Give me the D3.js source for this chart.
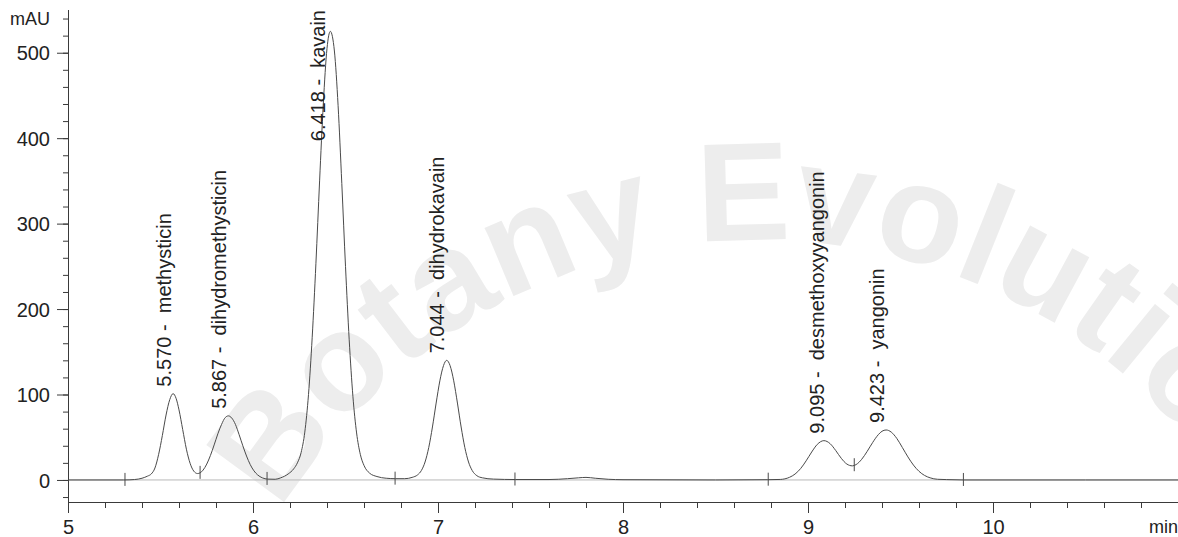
<!DOCTYPE html>
<html>
<head>
<meta charset="utf-8">
<script src="https://cdn.jsdelivr.net/npm/d3@7"></script>
<style>
  html, body { margin: 0; padding: 0; background: #fff; }
  svg { display: block; font-family: "Liberation Sans", Arial, Helvetica, sans-serif; }
</style>
</head>
<body>
<svg id="chart" width="1178" height="537"></svg>
<script>
// --- DATA ---
const traceTime = [
  5.00, 5.20, 5.30, 5.36, 5.40, 5.43, 5.45, 5.47, 5.49, 5.51, 5.53, 5.55, 5.568, 5.585, 5.60, 5.62,
  5.64, 5.66, 5.68, 5.70, 5.714, 5.73, 5.75, 5.77, 5.79, 5.81, 5.83, 5.85, 5.867, 5.885, 5.905, 5.925,
  5.945, 5.965, 5.985, 6.005, 6.025, 6.05, 6.08, 6.12, 6.15, 6.19, 6.22, 6.24, 6.26, 6.28, 6.30, 6.32,
  6.34, 6.36, 6.38, 6.40, 6.418, 6.44, 6.46, 6.48, 6.50, 6.52, 6.54, 6.56, 6.58, 6.60, 6.63, 6.67,
  6.72, 6.77, 6.82, 6.86, 6.89, 6.91, 6.93, 6.95, 6.97, 6.99, 7.01, 7.03, 7.047, 7.065, 7.085, 7.105,
  7.125, 7.145, 7.165, 7.185, 7.21, 7.24, 7.30, 7.42, 7.60, 7.70, 7.76, 7.80, 7.85, 7.92, 8.00, 8.50,
  8.78, 8.85, 8.90, 8.93, 8.96, 8.99, 9.02, 9.05, 9.086, 9.12, 9.15, 9.18, 9.21, 9.24, 9.26, 9.29,
  9.32, 9.35, 9.38, 9.40, 9.422, 9.45, 9.48, 9.51, 9.54, 9.57, 9.60, 9.63, 9.66, 9.70, 9.80, 9.84,
  10.5, 11.0
];
const traceMAU = [
  0, 0, 0, 0.5, 2, 4.5, 7, 14, 30, 52, 76, 94, 101, 95, 82, 59,
  36, 19.5, 10.3, 7.5, 8.3, 11.5, 18.6, 28.7, 41, 54, 65, 73, 75, 72.5, 65, 53,
  40, 28, 18, 10.7, 5.9, 2.5, 1, 0.8, 2.5, 7, 13, 20, 32, 56, 100, 167,
  253, 350, 440, 505, 525, 502, 438, 347, 250, 164, 98, 55, 30, 17, 8, 4,
  2, 1.5, 1.5, 3, 6, 11, 21, 38, 62, 90, 116, 134, 140, 134, 116, 90,
  62, 38, 21, 11, 5, 2.5, 1, 0.5, 0.5, 1.5, 2.5, 3, 2, 0.8, 0.3, 0,
  0.3, 0.6, 3.1, 6.9, 13.3, 22.4, 32.7, 41.6, 46, 42.4, 34.4, 25.3, 18.6, 16.5, 18, 24.1,
  33.5, 44, 53, 57, 58.5, 56, 48.6, 38, 27, 17.4, 10.1, 5.3, 2.5, 0.8, 0.2, 0,
  0, 0
];

const peakTimes = [5.570, 5.867, 6.418, 7.044, 9.095, 9.423];
const peakNames = ["methysticin", "dihydromethysticin", "kavain", "dihydrokavain", "desmethoxyyangonin", "yangonin"];

// integration start/end marks drawn on the trace
const markerTimes = [5.308, 5.714, 6.076, 6.768, 7.416, 8.785, 9.25, 9.84];

const xMajorTicks = [5, 6, 7, 8, 9, 10];
const yMajorTicks = [0, 100, 200, 300, 400, 500];
const xUnit = "min";
const yUnit = "mAU";
const watermarkText = "Botany Evolution";

// --- CONFIGURATION ---
const X_LEFT = 68, X_RIGHT = 1178;
const Y_TOP = 10, Y_AXIS = 502;
const TRACE_COLOR = "#4a4a4a";
const AXIS_COLOR = "#3a3a3a";

const svg = d3.select("#chart");

const x = d3.scaleLinear().domain([5, 11]).range([X_LEFT, X_RIGHT]);
const y = d3.scaleLinear().domain([-25.8, 550]).range([Y_AXIS, Y_TOP]);

// --- WATERMARK ---
const wmCx = 760, wmCy = 800, wmR = 560;
svg.append("defs").append("path")
  .attr("id", "wm-arc")
  .attr("d", `M${wmCx - wmR},${wmCy} A${wmR},${wmR} 0 0 1 ${wmCx + wmR},${wmCy}`);
svg.append("text")
  .attr("font-size", 140)
  .attr("font-weight", "bold")
  .attr("fill", "#ededed")
  .append("textPath")
  .attr("href", "#wm-arc")
  .attr("startOffset", "50%")
  .attr("text-anchor", "middle")
  .text(watermarkText);

// --- ZERO LINE ---
svg.append("line")
  .attr("x1", X_LEFT).attr("x2", X_RIGHT)
  .attr("y1", y(0)).attr("y2", y(0))
  .attr("stroke", "#b8b8b8").attr("stroke-width", 1);

// --- AXES ---
function styleAxis(sel) {
  sel.select(".domain").remove();
  sel.selectAll("line").attr("stroke", AXIS_COLOR);
  sel.selectAll("text").attr("fill", "#222").attr("font-family", null);
}
function minorOnly(sel) {
  sel.select(".domain").remove();
  sel.selectAll("text").remove();
  sel.selectAll("line").attr("stroke", AXIS_COLOR);
}

// y axis: minor ticks every 20, major every 100
const yMinor = d3.range(-20, 541, 20);
svg.append("g")
  .attr("transform", `translate(${X_LEFT},0)`)
  .call(d3.axisLeft(y).tickValues(yMinor).tickSize(5))
  .call(minorOnly);
svg.append("g")
  .attr("transform", `translate(${X_LEFT},0)`)
  .call(d3.axisLeft(y).tickValues(yMajorTicks).tickSize(11).tickPadding(7).tickFormat(d3.format("d")))
  .call(styleAxis)
  .selectAll("text").attr("font-size", 20).attr("dy", "0.36em");

svg.append("text")
  .attr("x", 50).attr("y", y(540))
  .attr("dy", "0.36em")
  .attr("text-anchor", "end")
  .attr("font-size", 18)
  .attr("fill", "#222")
  .text(yUnit);

svg.append("line")
  .attr("x1", X_LEFT + 0.5).attr("x2", X_LEFT + 0.5)
  .attr("y1", Y_TOP).attr("y2", Y_AXIS)
  .attr("stroke", AXIS_COLOR);

// x axis: minor ticks every 0.2 min
const xMinor = d3.range(5, 11.01, 0.2).map(d => +d.toFixed(1));
svg.append("g")
  .attr("transform", `translate(0,${Y_AXIS})`)
  .call(d3.axisBottom(x).tickValues(xMinor).tickSize(6))
  .call(minorOnly);
svg.append("g")
  .attr("transform", `translate(0,${Y_AXIS})`)
  .call(d3.axisBottom(x).tickValues(xMajorTicks).tickSize(11).tickPadding(7).tickFormat(d3.format("d")))
  .call(styleAxis)
  .selectAll("text").attr("font-size", 20);

svg.append("line")
  .attr("x1", X_LEFT).attr("x2", X_RIGHT)
  .attr("y1", Y_AXIS + 0.5).attr("y2", Y_AXIS + 0.5)
  .attr("stroke", AXIS_COLOR);

svg.append("text")
  .attr("x", X_RIGHT).attr("y", 533)
  .attr("text-anchor", "end")
  .attr("font-size", 18)
  .attr("fill", "#222")
  .text(xUnit);

// --- TRACE ---
const points = traceTime.map((t, i) => [t, traceMAU[i]]);
const line = d3.line()
  .x(d => x(d[0]))
  .y(d => y(d[1]))
  .curve(d3.curveMonotoneX);

svg.append("path")
  .datum(points)
  .attr("fill", "none")
  .attr("stroke", TRACE_COLOR)
  .attr("stroke-width", 1)
  .attr("d", line);

// value on the trace at time t (linear between read points)
const bisect = d3.bisector(d => d).left;
function traceAt(t) {
  const i = Math.max(1, Math.min(traceTime.length - 1, bisect(traceTime, t)));
  const t0 = traceTime[i - 1], t1 = traceTime[i];
  const k = (t - t0) / (t1 - t0);
  return traceMAU[i - 1] + k * (traceMAU[i] - traceMAU[i - 1]);
}

svg.append("g").selectAll("line")
  .data(markerTimes)
  .enter().append("line")
  .attr("x1", d => x(d)).attr("x2", d => x(d))
  .attr("y1", d => y(traceAt(d)) - 7)
  .attr("y2", d => y(traceAt(d)) + 6)
  .attr("stroke", TRACE_COLOR)
  .attr("stroke-width", 1);

// --- PEAK LABELS ---
const labels = svg.append("g").selectAll("text")
  .data(peakTimes)
  .enter().append("text")
  .attr("font-size", 20)
  .attr("fill", "#222")
  .attr("xml:space", "preserve")
  .style("white-space", "pre")
  .text((d, i) => `${d.toFixed(3)} -  ${peakNames[i]}`);

labels.each(function(d) {
  const len = this.getComputedTextLength();
  const apex = d3.max(points.filter(p => Math.abs(p[0] - d) < 0.03), p => p[1]);
  let bottom = y(apex) - 7;
  let dx = -2;
  // too tall to sit above the apex: hang it from the top, beside the peak
  if (bottom - len < 4) { bottom = len + 10; dx = -5; }
  d3.select(this).attr("transform", `translate(${x(d) + dx},${bottom}) rotate(-90)`);
});
</script>
</body>
</html>
